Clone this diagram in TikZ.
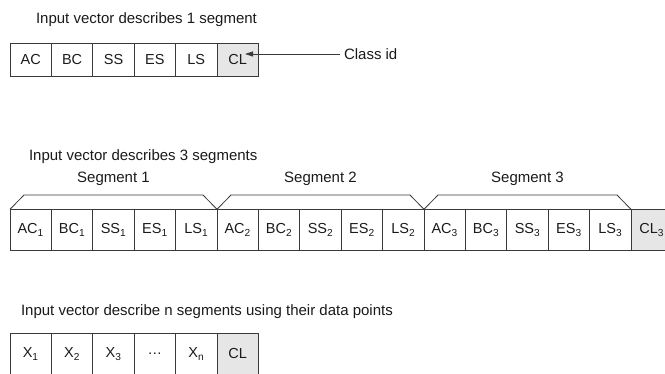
\documentclass[tikz,border=0pt]{standalone}
\usepackage{fontspec}
\setmainfont{Liberation Sans}
\usetikzlibrary{arrows.meta,calc}
\definecolor{linec}{HTML}{3A3A3A}
\definecolor{cellgray}{HTML}{E6E6E6}
\definecolor{txtc}{HTML}{1A1A1A}
\begin{document}
\begin{tikzpicture}[x=1pt,y=-1pt,
  cell/.style={draw=linec, line width=0.8pt, minimum width=41.4pt, inner sep=0pt, outer sep=0pt,
    font=\fontsize{14.5}{16}\selectfont, text=txtc},
  clcell/.style={cell, fill=cellgray},
  title/.style={inner sep=0pt, outer sep=0pt, font=\fontsize{15}{17}\selectfont, text=txtc},
  bracket/.style={draw=linec, line width=0.8pt},
]
\useasboundingbox (0,0) rectangle (665,373);

% Row 1
\node[title, anchor=base west] (t1) at (36,23.3) {Input vector describes 1 segment};
\foreach \t [count=\i] in {AC,BC,SS,ES,LS}
  \node[cell, minimum height=32.7pt] (r1c\i) at ({10+41.4*(\i-0.5)},59.7) {\t};
\node[clcell, minimum height=32.7pt] (r1c6) at ({10+41.4*5.5},59.7) {CL};
\node[title, anchor=west] (classid) at (344,54) {Class id};
\coordinate (cltip) at (245,54);
\draw[draw=linec, line width=0.8pt, -{Triangle[length=8pt,width=5pt]}] ([xshift=-4pt]classid.west) -- (cltip);

% Row 2
\node[title, anchor=base west] (t2) at (29,160.7) {Input vector describes 3 segments};
\foreach \s in {1,2,3}{
  \foreach \t [count=\j] in {AC,BC,SS,ES,LS}{
    \pgfmathtruncatemacro{\k}{(\s-1)*5+\j}
    \node[cell, minimum height=41.4pt] (r2c\k) at ({10+41.4*(\k-0.5)},230) {\t\textsubscript{\s}};
  }
}
\node[clcell, minimum height=41.4pt] (r2c16) at ({10+41.4*15.5},230) {CL\textsubscript{3}};

\foreach \s/\a/\b in {1/1/5,2/6/10,3/11/15}{
  \draw[bracket] (r2c\a.north west) -- ([xshift=14pt,yshift=14.3pt]r2c\a.north west)
     -- ([xshift=-14pt,yshift=14.3pt]r2c\b.north east) -- (r2c\b.north east);
  \node[title, anchor=base] (seg\s) at ($(r2c\a.north west)!0.5!(r2c\b.north east)+(0,-26.6)$) {Segment \s};
}

% Row 3
\node[title, anchor=base west] (t3) at (21,315.7) {Input vector describe n segments using their data points};
\foreach \t [count=\i] in {X\textsubscript{1},X\textsubscript{2},X\textsubscript{3},{\ldots},X\textsubscript{n}}
  \node[cell, minimum height=41.4pt] (r3c\i) at ({10+41.4*(\i-0.5)},354) {\t};
\node[clcell, minimum height=41.4pt] (r3c6) at ({10+41.4*5.5},354) {CL};
\end{tikzpicture}
\end{document}
